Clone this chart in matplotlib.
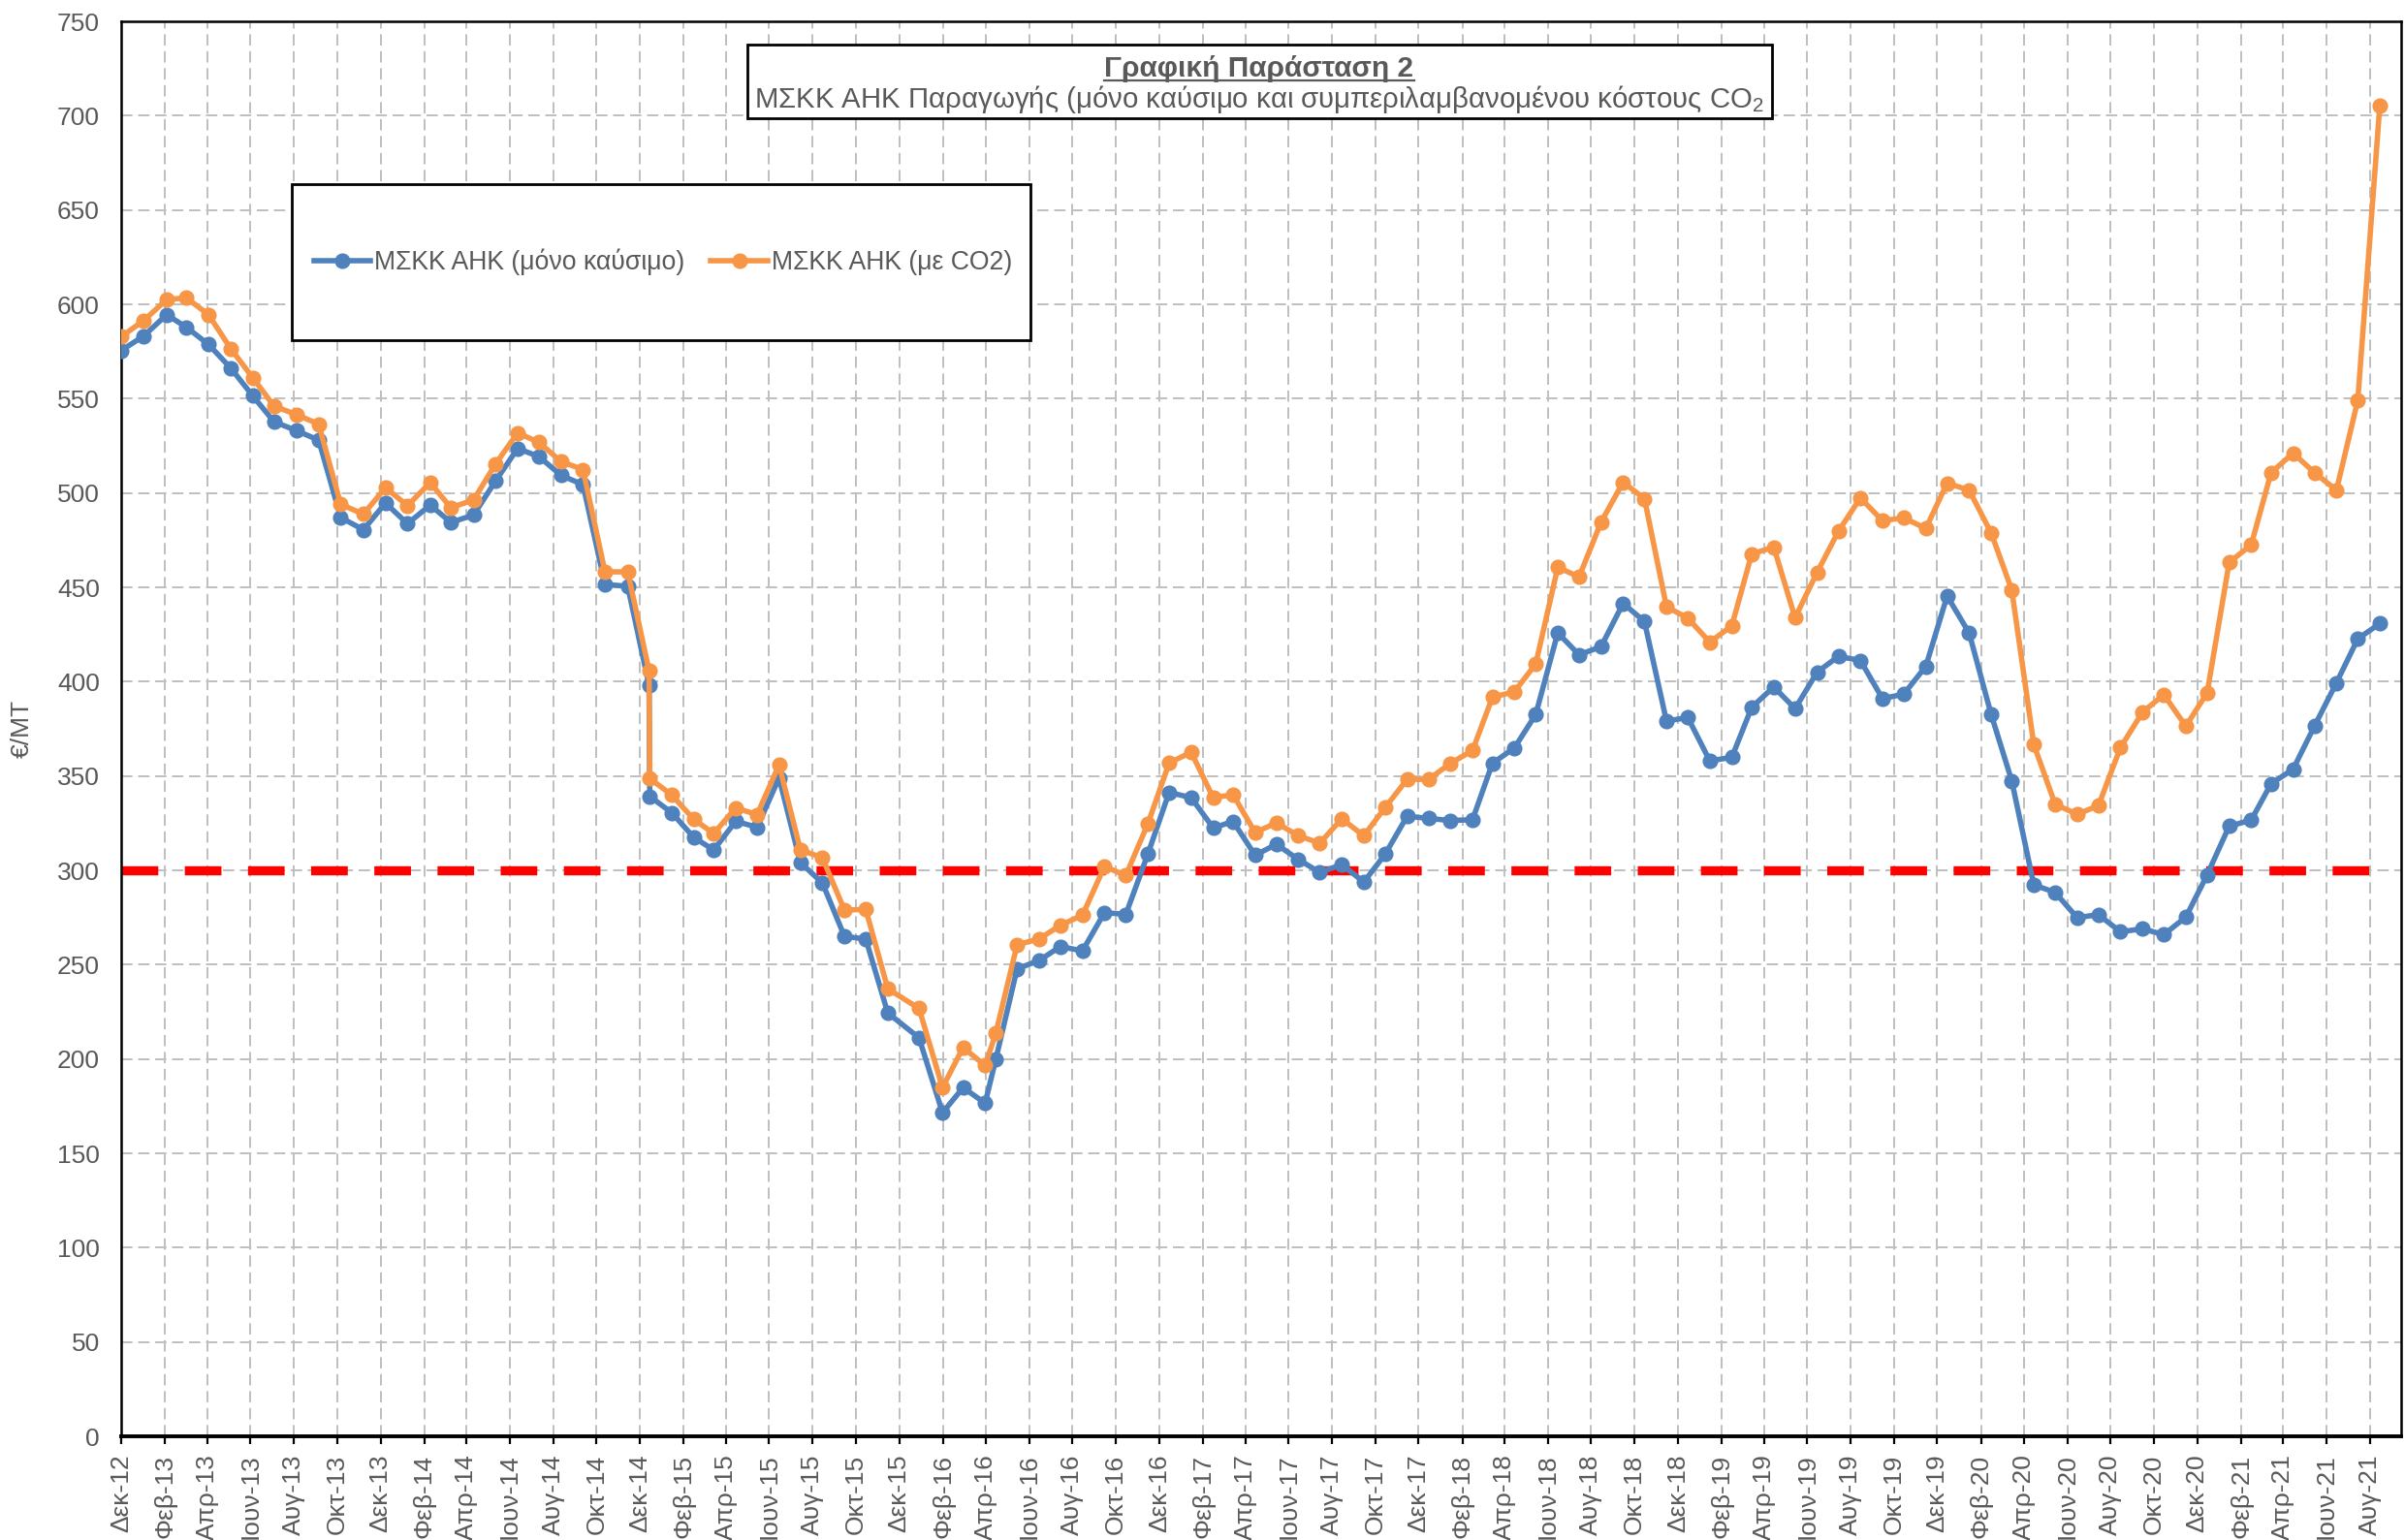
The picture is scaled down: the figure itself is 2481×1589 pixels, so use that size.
import matplotlib
matplotlib.use("Agg")
import matplotlib.pyplot as plt
import matplotlib.dates as mdates
from matplotlib.patches import Rectangle
from matplotlib.lines import Line2D
from matplotlib.ticker import FuncFormatter, MultipleLocator
import pandas as pd

# ---------------- data ----------------
dates = [
    '2012-12-01', '2013-01-02', '2013-02-03', '2013-03-03', '2013-04-03', '2013-05-04',
    '2013-06-04', '2013-07-04', '2013-08-05', '2013-09-05', '2013-10-06', '2013-11-07',
    '2013-12-08', '2014-01-08', '2014-02-09', '2014-03-10', '2014-04-11', '2014-05-12',
    '2014-06-12', '2014-07-12', '2014-08-12', '2014-09-12', '2014-10-13', '2014-11-14',
    '2014-12-14', '2014-12-15',
    '2015-01-15', '2015-02-15', '2015-03-15', '2015-04-15', '2015-05-15', '2015-06-15',
    '2015-07-15', '2015-08-15', '2015-09-15', '2015-10-15', '2015-11-15',
    '2015-12-29', '2016-01-31', '2016-02-29', '2016-03-31', '2016-04-15',
    '2016-05-15', '2016-06-15', '2016-07-15', '2016-08-15', '2016-09-15', '2016-10-15',
    '2016-11-15', '2016-12-15',
    '2017-01-15', '2017-02-15', '2017-03-15', '2017-04-15', '2017-05-15', '2017-06-15',
    '2017-07-15', '2017-08-15', '2017-09-15', '2017-10-15', '2017-11-15', '2017-12-15',
    '2018-01-15', '2018-02-15', '2018-03-15', '2018-04-15', '2018-05-15', '2018-06-15',
    '2018-07-15', '2018-08-15', '2018-09-15', '2018-10-15', '2018-11-15', '2018-12-15',
    '2019-01-15', '2019-02-15', '2019-03-15', '2019-04-15', '2019-05-15', '2019-06-15',
    '2019-07-15', '2019-08-15', '2019-09-15', '2019-10-15', '2019-11-15', '2019-12-15',
    '2020-01-15', '2020-02-15', '2020-03-15', '2020-04-15', '2020-05-15', '2020-06-15',
    '2020-07-15', '2020-08-15', '2020-09-15', '2020-10-15', '2020-11-15', '2020-12-15',
    '2021-01-15', '2021-02-15', '2021-03-15', '2021-04-15', '2021-05-15', '2021-06-15',
    '2021-07-15', '2021-08-15',
]

fuel_only = [
    575.5, 583.3, 594.5, 587.8, 578.7, 566.3, 551.6, 537.8, 533.0, 528.0, 487.0, 480.5,
    494.7, 483.7, 493.6, 484.4, 488.3, 506.4, 523.6, 519.3, 509.4, 504.4, 451.6, 450.5,
    398.0, 339.2,
    330.5, 317.4, 310.8, 326.0, 322.8, 349.0, 304.1, 293.3, 265.0, 263.6, 224.4,
    211.2, 171.5, 184.8, 176.6, 199.8,
    247.8, 252.2, 259.6, 257.3, 277.6, 276.6, 308.6, 341.3,
    338.5, 322.5, 325.9, 308.0, 313.8, 305.7, 298.9, 303.0, 293.8, 308.5, 328.7, 327.5,
    326.4, 326.8, 356.7, 364.9, 382.6, 425.9, 414.2, 418.6, 441.5, 431.9, 379.1, 381.0,
    358.0, 359.9, 386.4, 397.2, 385.7, 405.0, 413.4, 411.2, 391.0, 393.4, 408.1, 445.4,
    425.8, 382.6, 347.4, 292.3, 288.3, 274.9, 276.5, 267.4, 269.0, 265.9, 275.2, 297.6,
    323.4, 326.6, 345.9, 353.6, 376.4, 399.4, 422.7, 430.8,
]

with_co2 = [
    582.8, 591.5, 602.5, 603.4, 594.5, 576.6, 561.2, 546.1, 541.5, 536.5, 494.0, 488.8,
    502.8, 493.3, 505.5, 492.2, 496.3, 515.4, 531.9, 526.8, 516.7, 512.4, 458.2, 458.2,
    405.8, 348.7,
    339.9, 327.0, 319.5, 333.1, 329.5, 355.9, 310.8, 306.7, 278.9, 279.3, 237.2,
    226.8, 184.8, 206.1, 196.5, 213.6,
    260.6, 263.6, 270.9, 276.2, 302.0, 297.3, 324.6, 356.9,
    362.6, 338.5, 340.1, 320.0, 325.2, 318.3, 314.4, 327.3, 318.3, 333.3, 348.2, 348.2,
    356.7, 363.5, 391.7, 394.7, 409.4, 460.6, 455.5, 484.6, 505.7, 497.0, 439.7, 433.7,
    420.9, 429.6, 467.7, 471.3, 433.9, 457.9, 479.7, 497.4, 485.3, 486.8, 481.2, 505.2,
    501.5, 478.8, 448.6, 366.7, 335.0, 329.7, 334.3, 365.1, 383.8, 393.1, 376.4, 394.1,
    463.2, 472.5, 510.8, 521.1, 510.8, 501.5, 549.1, 705.3,
]

threshold = 300

month_abbr_gr = ['Ιαν', 'Φεβ', 'Μαρ', 'Απρ', 'Μαϊ', 'Ιουν',
                 'Ιουλ', 'Αυγ', 'Σεπ', 'Οκτ', 'Νοε', 'Δεκ']
series_labels = ['ΜΣΚΚ ΑΗΚ (μόνο καύσιμο)', 'ΜΣΚΚ ΑΗΚ (με CO2)']
title_line1 = 'Γραφική Παράσταση 2'
title_line2 = 'ΜΣΚΚ ΑΗΚ Παραγωγής (μόνο καύσιμο και συμπεριλαμβανομένου κόστους CO$_2$'
y_label = '€/MT'

assert len(dates) == len(fuel_only) == len(with_co2)

# ---------------- style ----------------
plt.rcParams['font.family'] = ['Liberation Sans', 'DejaVu Sans']
plt.rcParams['mathtext.fontset'] = 'custom'
plt.rcParams['mathtext.rm'] = 'Liberation Sans'
plt.rcParams['mathtext.it'] = 'Liberation Sans:italic'
plt.rcParams['mathtext.bf'] = 'Liberation Sans:bold'

TXT = '#595959'
BLUE = '#4F81BD'
ORANGE = '#F79646'
W, H, DPI = 2481, 1589, 200

fig = plt.figure(figsize=(W / DPI, H / DPI), dpi=DPI)
fig.patch.set_facecolor('white')

def fx(px):
    return px / W

def fy(py):
    return 1 - py / H

ax_left, ax_right, ax_top, ax_bottom = 125, 2477, 22, 1482
ax = fig.add_axes([fx(ax_left), fy(ax_bottom), fx(ax_right - ax_left), (ax_bottom - ax_top) / H])

x = pd.to_datetime(dates)

ax.plot(x, [threshold] * len(x), color='#FF0000', lw=3.4, dashes=(4.0, 2.9), zorder=2)
ax.plot(x, fuel_only, color=BLUE, lw=2.0, marker='o', ms=4.8, zorder=3)
ax.plot(x, with_co2, color=ORANGE, lw=2.0, marker='o', ms=4.8, zorder=4)

ax.set_xlim(pd.Timestamp('2012-12-01'), pd.Timestamp('2021-09-14'))
ax.set_ylim(0, 750)
ax.yaxis.set_major_locator(MultipleLocator(50))

ax.xaxis.set_major_locator(mdates.MonthLocator(bymonth=[2, 4, 6, 8, 10, 12], bymonthday=1))

def fmt_date(v, pos):
    d = mdates.num2date(v)
    return f"{month_abbr_gr[d.month - 1]}-{d.year % 100:02d}"

ax.xaxis.set_major_formatter(FuncFormatter(fmt_date))

ax.grid(True, which='major', axis='both', color='#BFBFBF', lw=0.7, ls=(0, (6, 3)), zorder=1)
ax.set_axisbelow(True)

for lab in ax.get_xticklabels():
    lab.set_rotation(90)
ax.tick_params(axis='x', labelsize=9.5, labelcolor=TXT, length=2.7, width=0.8,
               color='black', pad=4, direction='out')
ax.tick_params(axis='y', labelsize=9.5, labelcolor=TXT, length=0, pad=8)

for s in ['left', 'right', 'top']:
    ax.spines[s].set_color('black')
    ax.spines[s].set_linewidth(0.9)
ax.spines['bottom'].set_color('black')
ax.spines['bottom'].set_linewidth(1.4)

ax.set_ylabel(y_label, fontsize=9.5, color=TXT)
ax.yaxis.set_label_coords((35 - ax_left) / (ax_right - ax_left), 0.5)

# ---------------- title box ----------------
tb_x0, tb_x1, tb_y0, tb_y1 = 770.6, 1827.6, 45.9, 121.8
fig.add_artist(Rectangle((fx(tb_x0), fy(tb_y1)), fx(tb_x1 - tb_x0), (tb_y1 - tb_y0) / H,
                         transform=fig.transFigure, facecolor='white', edgecolor='black',
                         lw=1.0, zorder=5))
t1 = fig.text(fx(1299), fy(79.3), title_line1, fontsize=10.75, fontweight='bold', color=TXT,
              ha='center', va='baseline', zorder=7)
t2 = fig.text(fx(1299), fy(110.7), title_line2, fontsize=10.6, color=TXT,
              ha='center', va='baseline', zorder=7)

# ---------------- legend box ----------------
lb_x0, lb_x1, lb_y0, lb_y1 = 300.6, 1063.3, 189.9, 351.3
fig.add_artist(Rectangle((fx(lb_x0), fy(lb_y1)), fx(lb_x1 - lb_x0), (lb_y1 - lb_y0) / H,
                         transform=fig.transFigure, facecolor='white', edgecolor='black',
                         lw=1.0, zorder=5))
handles = [Line2D([], [], color=BLUE, lw=2.0, marker='o', ms=4.8),
           Line2D([], [], color=ORANGE, lw=2.0, marker='o', ms=4.8)]
leg = fig.legend(handles, series_labels, loc='center', bbox_to_anchor=(fx(684), fy(270.6)),
                 bbox_transform=fig.transFigure, ncol=2, frameon=False, fontsize=9.6,
                 handlelength=2.2, handletextpad=0.15, columnspacing=1.0, borderpad=0)
for t in leg.get_texts():
    t.set_color(TXT)
leg.set_zorder(6)

# underline for the first title line
fig.canvas.draw()
r = fig.canvas.get_renderer()
bb = t1.get_window_extent(r)
fig.add_artist(Line2D([bb.x0 / W, bb.x1 / W], [fy(83.2), fy(83.2)], transform=fig.transFigure,
                      color=TXT, lw=0.8, zorder=7))

fig.savefig('out.png', dpi=DPI, facecolor='white')
